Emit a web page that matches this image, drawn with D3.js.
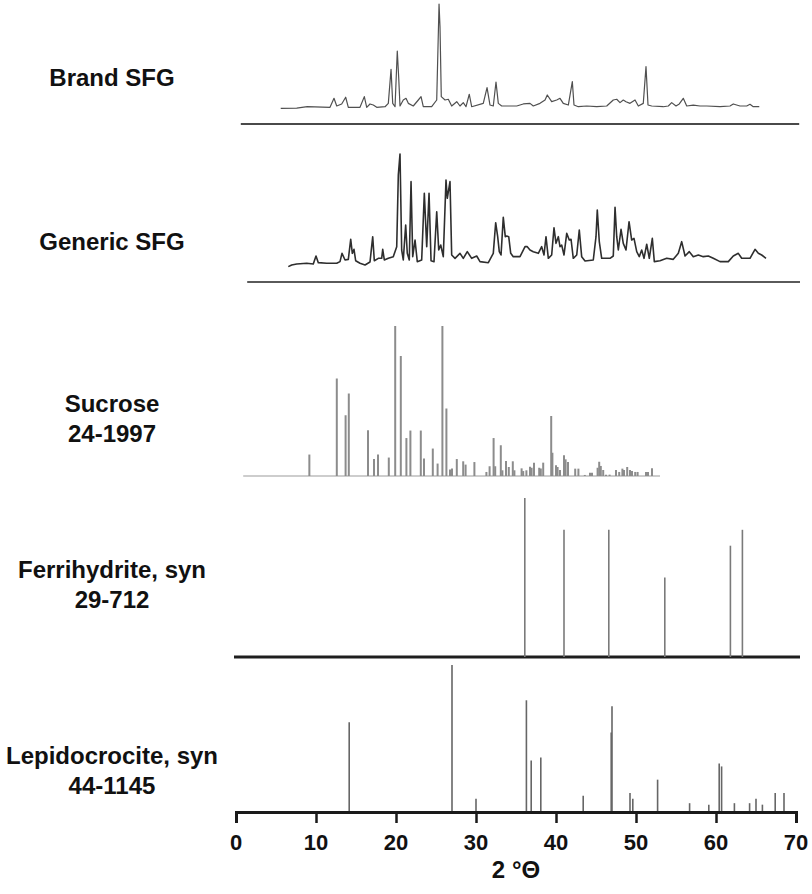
<!DOCTYPE html>
<html>
<head>
<meta charset="utf-8">
<script src="https://cdn.jsdelivr.net/npm/d3@7"></script>
<style>
  html, body { margin: 0; padding: 0; background: #ffffff; }
  svg { display: block; }
  text { font-family: "Liberation Sans", Arial, sans-serif; font-weight: bold; fill: #111; }
</style>
</head>
<body>
<svg id="chart" width="812" height="894"></svg>
<script>
// ---------------- DATA ----------------
const panelLabels = [
  ["Brand SFG"],
  ["Generic SFG"],
  ["Sucrose", "24-1997"],
  ["Ferrihydrite, syn", "29-712"],
  ["Lepidocrocite, syn", "44-1145"]
];

const xTicks = [0, 10, 20, 30, 40, 50, 60, 70];
const xTitle = "2 °Θ";

// Brand SFG measured pattern: [2θ, relative intensity]
const brandTrace = [
  [5.59,13.1],[7.59,13.3],[8.91,14.4],[11.75,13.9],[12.25,21.4],[12.59,15.0],[13.21,16.7],[13.71,22.3],
  [14.04,13.9],[15.5,13.9],[16.04,22.8],[16.34,13.9],[16.75,16.7],[17.16,15.8],[17.59,13.9],[18.63,14.4],
  [19.04,17.2],[19.38,45.6],[19.59,17.2],[19.88,14.4],[20.16,60.8],[20.34,38.3],[20.5,15.0],[20.91,20.0],
  [21.25,21.4],[21.54,17.2],[22.16,15.0],[22.79,20.0],[23.13,22.8],[23.41,14.4],[24.46,14.4],[25.09,20.0],
  [25.38,100],[25.5,81.1],[25.66,22.8],[26.13,20.0],[26.54,20.6],[26.96,15.0],[27.59,18.6],[28.0,15.0],
  [28.41,17.8],[28.75,14.4],[29.16,24.8],[29.46,14.4],[30.91,17.2],[31.38,30.3],[31.75,15.8],[32.16,15.0],
  [32.5,35.0],[32.79,17.2],[33.21,15.0],[35.09,15.0],[35.91,16.7],[36.75,17.2],[37.16,15.0],[38.0,17.2],
  [38.63,20.0],[38.91,24.2],[39.46,18.6],[40.09,20.0],[40.5,21.4],[40.91,17.2],[41.54,15.8],[42.04,35.3],
  [42.25,15.8],[42.79,14.4],[43.84,15.0],[45.09,14.4],[46.34,15.0],[47.16,20.0],[47.59,20.6],[48.0,17.8],
  [48.41,20.0],[48.75,18.6],[49.25,17.2],[49.88,20.0],[50.29,15.0],[50.91,17.2],[51.25,47.8],[51.5,15.8],
  [51.96,15.0],[53.41,14.4],[54.04,15.0],[54.46,17.8],[55.0,15.0],[55.41,16.7],[55.91,21.4],[56.34,15.0],
  [57.16,15.8],[58.0,15.0],[58.84,15.0],[60.5,14.4],[61.75,15.0],[62.16,16.7],[63.0,15.0],[63.84,15.0],
  [64.25,16.4],[64.66,14.4],[65.41,14.4]
];

// Generic SFG measured pattern: [2θ, relative intensity]
const genericTrace = [
  [6.54,12.0],[6.96,13.3],[7.59,14.1],[8.84,14.6],[9.66,14.1],[10.0,20.3],[10.29,15.1],[11.34,14.6],
  [12.59,14.6],[13.0,15.9],[13.25,22.4],[13.63,17.2],[14.04,17.7],[14.34,33.4],[14.54,22.4],[14.75,25.5],
  [14.96,16.6],[15.5,14.6],[16.13,13.3],[16.75,15.6],[17.09,35.4],[17.29,16.6],[17.79,18.5],[18.21,18.5],
  [18.34,25.5],[18.54,17.2],[19.04,18.5],[19.66,19.8],[20.09,27.6],[20.29,83.6],[20.5,100],[20.71,25.0],
  [20.91,17.2],[21.21,44.5],[21.41,22.4],[21.66,17.2],[21.88,78.4],[22.09,19.8],[22.38,32.8],[22.66,15.9],
  [23.21,17.2],[23.54,69.3],[23.84,27.6],[24.13,69.3],[24.38,16.6],[24.75,15.9],[25.09,54.9],[25.34,25.0],
  [25.59,28.9],[25.91,19.8],[26.25,79.7],[26.41,65.4],[26.75,78.4],[26.96,21.1],[27.38,18.5],[28.0,22.4],
  [28.41,18.5],[28.91,23.7],[29.46,18.5],[30.09,20.3],[30.5,15.9],[31.54,15.1],[32.16,22.4],[32.46,46.3],
  [32.71,35.4],[32.91,23.7],[33.13,21.1],[33.41,50.5],[33.66,35.4],[33.84,35.9],[34.09,35.4],[34.34,22.4],
  [34.66,19.8],[35.5,19.8],[36.13,27.6],[36.41,27.6],[36.75,25.0],[37.16,23.7],[37.79,22.4],[38.21,27.6],
  [38.5,21.1],[38.75,35.4],[39.04,18.5],[39.46,21.1],[39.75,42.4],[40.0,30.2],[40.29,35.4],[40.5,27.6],
  [40.71,28.9],[41.0,21.1],[41.34,38.0],[41.66,32.8],[41.88,33.4],[42.16,18.5],[42.59,21.1],[42.91,40.6],
  [43.21,19.8],[43.63,16.4],[44.66,17.2],[45.0,35.4],[45.16,56.3],[45.41,31.5],[45.71,18.5],[46.75,18.5],
  [47.16,20.3],[47.38,58.4],[47.59,35.4],[47.79,25.0],[48.13,41.2],[48.41,30.2],[48.75,25.0],[49.13,47.1],
  [49.46,32.8],[49.75,34.1],[50.09,23.7],[50.41,19.8],[50.71,25.0],[51.0,18.5],[51.34,29.5],[51.66,18.5],
  [52.04,34.1],[52.29,15.9],[53.0,16.6],[53.84,18.5],[54.66,17.7],[55.29,22.4],[55.71,31.5],[56.13,20.3],
  [56.66,23.7],[57.16,19.8],[57.79,21.1],[58.41,19.8],[59.04,20.3],[59.66,18.5],[60.5,15.9],[61.54,15.9],
  [62.16,20.3],[62.79,22.4],[63.21,18.5],[64.25,18.5],[64.88,25.5],[65.29,22.4],[65.71,21.1],[66.25,18.5]
];

// Sucrose reference 24-1997 stick pattern: [2θ, I/I0]
const sucroseSticks = [
  [9.17,14.3],[12.6,65],[13.7,40.5],[14.1,55],[16.5,30.5],[17.25,11.3],[17.75,14.3],[19.1,12.3],
  [19.9,100],[20.6,80],[21.3,25.3],[21.8,30.3],[23.1,30.3],[23.5,11.6],[24.6,18.3],[25.2,8.3],
  [25.8,100],[26.3,45],[26.75,4.3],[27.0,5],[27.6,11.3],[28.4,9.8],[28.7,7.6],[29.8,9.3],
  [31.3,2.7],[31.7,6.5],[32.2,25.3],[32.4,6.5],[33.1,20.5],[33.3,3.8],[33.75,10],[34.1,6],
  [34.6,9.8],[34.8,3.8],[35.7,5.1],[35.9,3.3],[36.3,3.8],[36.75,6.2],[36.95,5.5],[37.25,8.9],
  [37.9,5.5],[38.1,5],[38.4,8.9],[39.4,40],[39.55,15.5],[40.0,7.1],[40.2,6],[40.5,4],
  [41.0,13.8],[41.2,11.1],[41.5,9.3],[42.4,4.9],[42.8,4.9],[43.6,0.7],[44.25,2.2],[44.5,2.2],
  [45.2,5.5],[45.4,9.5],[45.6,6.7],[45.9,4],[46.25,0.9],[46.7,0.9],[47.5,4],[47.9,2.7],
  [48.3,4.9],[48.5,4],[48.9,6],[49.25,4],[49.5,3.3],[49.9,2.7],[50.2,2.7],[51.25,2.7],
  [51.5,2.7],[52.0,5.1]
];

// Ferrihydrite, syn 29-712 stick pattern: [2θ, I/I0]
const ferrihydriteSticks = [
  [36.1,100],[41.0,80],[46.6,80],[53.6,50],[61.8,70],[63.3,80]
];

// Lepidocrocite, syn 44-1145 stick pattern: [2θ, I/I0]
const lepidocrociteSticks = [
  [14.15,61],[27.0,100],[30.0,9],[36.3,76],[36.9,35],[38.1,37],[43.4,11],[47.0,72],[46.9,54],
  [49.25,13],[49.6,9],[52.7,22],[56.7,6],[59.1,5],[60.4,33],[60.7,31],[62.3,6],[64.2,6],
  [65.0,9],[65.8,5],[67.4,13],[68.5,13]
];

// ---------------- LAYOUT ----------------
const svg = d3.select("#chart");
const x = d3.scaleLinear().domain([0, 70]).range([236, 796]);

const panels = [
  { base: 124, top: 4,   labelY: [86],       line: [0.6, 70.4],  lineColor: "#4a4a4a", lineW: 2 },
  { base: 282, top: 154, labelY: [250],      line: [1.4, 70.5],  lineColor: "#5a5a5a", lineW: 2 },
  { base: 476, top: 326, labelY: [412, 442], line: [0.9, 53.0],  lineColor: "#bdbdbd", lineW: 1.5 },
  { base: 657, top: 498, labelY: [578, 608], line: [-0.25, 70.5], lineColor: "#1e1e1e", lineW: 3 },
  { base: 812, top: 665, labelY: [764, 794], line: null }
];
panels.forEach(p => { p.y = d3.scaleLinear().domain([0, 100]).range([p.base, p.top]); });

panels.forEach((p, i) => {
  panelLabels[i].forEach((t, j) => {
    svg.append("text")
      .attr("x", 112).attr("y", p.labelY[j])
      .attr("text-anchor", "middle")
      .style("font-size", "24px")
      .text(t);
  });
});

panels.forEach(p => {
  if (!p.line) return;
  svg.append("line")
    .attr("x1", x(p.line[0])).attr("x2", x(p.line[1]))
    .attr("y1", p.base).attr("y2", p.base)
    .attr("stroke", p.lineColor).attr("stroke-width", p.lineW);
});

function drawTrace(data, p, color, width) {
  const line = d3.line().x(d => x(d[0])).y(d => p.y(d[1]));
  svg.append("path").datum(data)
    .attr("d", line)
    .attr("fill", "none")
    .attr("stroke", color)
    .attr("stroke-width", width)
    .attr("stroke-linejoin", "round");
}
drawTrace(brandTrace, panels[0], "#505050", 1.2);
drawTrace(genericTrace, panels[1], "#2e2e2e", 1.6);

function drawSticks(data, p, color, width) {
  svg.append("g").selectAll("line").data(data).join("line")
    .attr("x1", d => x(d[0])).attr("x2", d => x(d[0]))
    .attr("y1", p.y(0)).attr("y2", d => p.y(d[1]))
    .attr("stroke", color)
    .attr("stroke-width", width);
}
drawSticks(sucroseSticks, panels[2], "#8c8c8c", 2);
drawSticks(ferrihydriteSticks, panels[3], "#7a7a7a", 1.6);
drawSticks(lepidocrociteSticks, panels[4], "#666666", 1.6);

// x axis: line + ticks from d3 axis, labels placed explicitly
const axis = d3.axisBottom(x)
  .tickValues(xTicks)
  .tickSize(11)
  .tickSizeOuter(11)
  .tickFormat(() => "");
const gAxis = svg.append("g").attr("transform", "translate(0,812)").call(axis);
gAxis.select(".domain").attr("stroke", "#1a1a1a").attr("stroke-width", 3);
gAxis.selectAll(".tick line").attr("stroke", "#1a1a1a").attr("stroke-width", 2.5);
gAxis.selectAll(".tick text").remove();

svg.append("g").selectAll("text").data(xTicks).join("text")
  .attr("x", d => x(d))
  .attr("y", 850)
  .attr("text-anchor", "middle")
  .style("font-size", "22px")
  .text(d => d);

svg.append("text")
  .attr("x", 516).attr("y", 878)
  .attr("text-anchor", "middle")
  .style("font-size", "24px")
  .text(xTitle);
</script>
</body>
</html>
